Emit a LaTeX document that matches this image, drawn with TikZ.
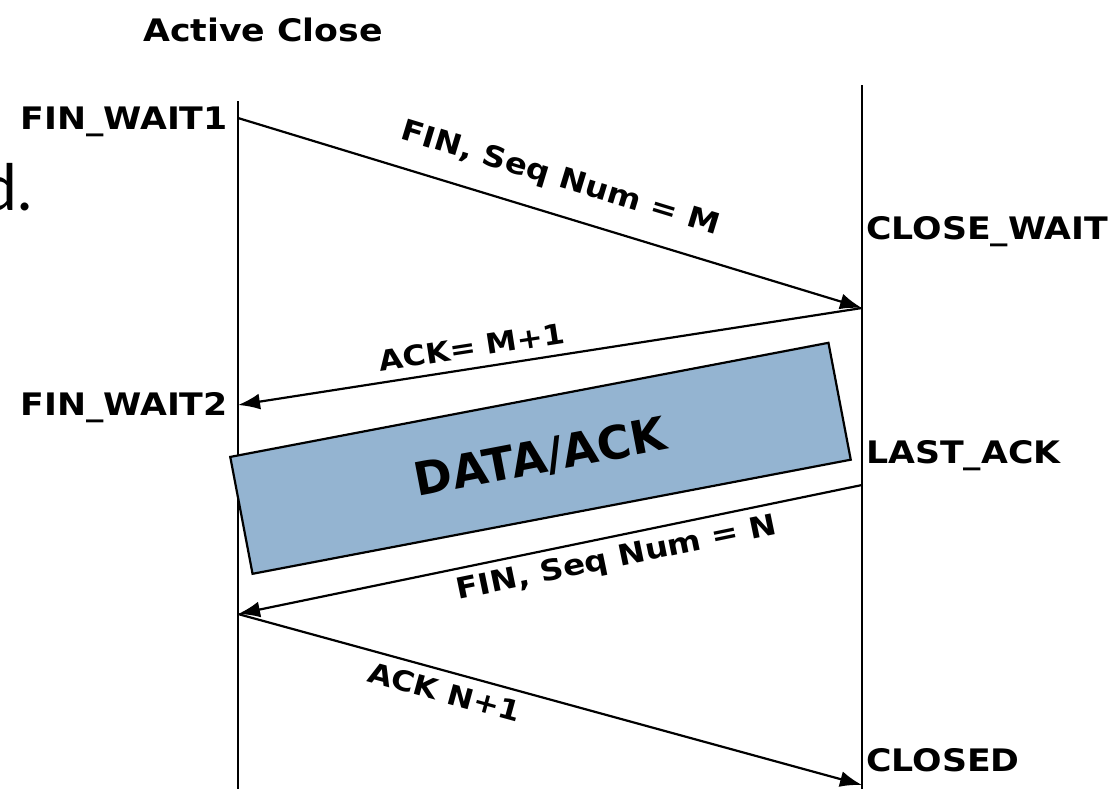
\documentclass[tikz,border=0pt]{standalone}
\usepackage{fontspec}
\setmainfont{DejaVu Sans}
\newfontfamily\comic[FakeStretch=1.12]{DejaVu Sans}
\newfontfamily\lightfont{Lato}
\usetikzlibrary{arrows.meta}
\definecolor{boxblue}{HTML}{94B4D1}
\tikzset{
  lifeline/.style={line width=2.2pt},
  msg/.style={line width=2.2pt,-{Latex[length=22pt,width=16pt]}},
  state/.style={font=\comic\fontsize{31}{33}\selectfont\bfseries, inner sep=0pt},
  msglabel/.style={font=\comic\fontsize{29}{31}\selectfont\bfseries, sloped, inner sep=0pt, text depth=0pt},
}
\begin{document}
\begin{tikzpicture}[x=1pt,y=-1pt]
\useasboundingbox (0,0) rectangle (1108,788);
% lifelines
\coordinate (Ltop) at (238,101);
\coordinate (Lbot) at (238,800);
\coordinate (Rtop) at (862,85);
\coordinate (Rbot) at (862,800);
\draw[lifeline] (Ltop) -- (Lbot);
\draw[lifeline] (Rtop) -- (Rbot);
% message points
\coordinate (L1) at (238,118);
\coordinate (R1) at (862,308);
\coordinate (L2) at (238,405);
\coordinate (R3) at (862,485);
\coordinate (L3) at (238,614);
\coordinate (R4) at (862,785);
\draw[msg] (L1) -- node[msglabel, above=26pt, pos=0.5] {FIN, Seq Num = M} (R1);
\draw[msg] (R1) -- node[msglabel, above=10pt, pos=0.62, font=\comic\fontsize{28}{30}\selectfont\bfseries] {ACK= M+1} (L2);
\draw[msg] (R3) -- node[msglabel, below=8pt, pos=0.4] {FIN, Seq Num = N} (L3);
\draw[msg] (L3) -- node[msglabel, below=9pt, pos=0.34, font=\comic\fontsize{28}{30}\selectfont\bfseries] {ACK N+1} (R4);
% data box
\node[draw, line width=2.2pt, fill=boxblue, minimum width=609pt, minimum height=119pt, rotate=10.8, inner sep=0pt,
      font=\fontsize{46}{48}\selectfont\bfseries] (data) at (540.5,458.3) {DATA/ACK};
% states
\node[state, anchor=east] (fw1) at (228,122) {FIN\_WAIT1};
\node[state, anchor=east] (fw2) at (228,408) {FIN\_WAIT2};
\node[state, anchor=west] (cw) at (866,232) {CLOSE\_WAIT};
\node[state, anchor=west] (la) at (866,456) {LAST\_ACK};
\node[state, anchor=west] (cl) at (866,760) {CLOSED};
\node[state] (title) at (263,30) {Active Close};
\node[font=\lightfont\fontsize{64}{66}\selectfont, anchor=base east, inner sep=0pt] (frag) at (33,210) {d.};
\end{tikzpicture}
\end{document}
